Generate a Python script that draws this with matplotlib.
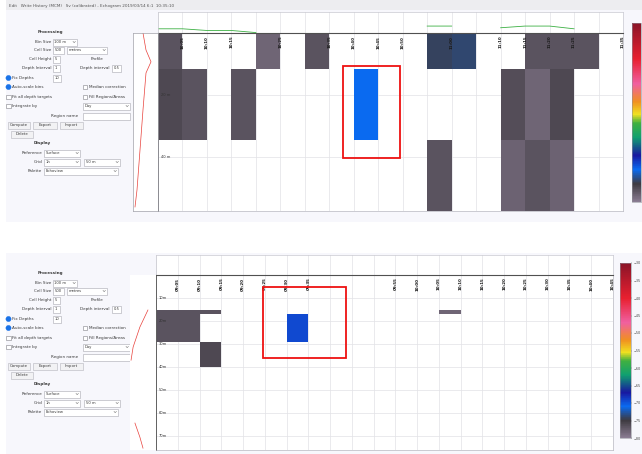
import numpy as np
import matplotlib
matplotlib.use("Agg")
import matplotlib.pyplot as plt
from matplotlib.colors import LinearSegmentedColormap, Normalize
from matplotlib.patches import Rectangle, Circle
import matplotlib.colorbar as mcolorbar

# ---------------- data ----------------
nan = np.nan
# top echogram: 19 time columns x 3 depth cells (Sv, dB)
top_depth_edges = [0, 11.5, 34.5, 57.5]
top_row_a = [-76.8, nan, nan, nan, -78.2, nan, -76.8, nan, nan, nan, nan, -74.2, -73.8, nan, nan, -76.8, -76.8, -76.8, nan]
top_row_b = [-76.0, -76.8, nan, -76.8, nan, nan, nan, nan, -71.0, nan, nan, nan, nan, nan, -76.4, -78.2, -76.0, nan, nan]
top_row_c = [nan, nan, nan, nan, nan, nan, nan, nan, nan, nan, nan, -76.8, nan, nan, -77.9, -76.8, -77.9, nan, nan]
top_depth_ticks = [20, 40]
top_depth_labels = ["20 m", "40 m"]
top_time_pos = [1, 2, 3, 5, 7, 8, 9, 10, 12, 14, 15, 16, 17, 19]
top_time_labels = ["10:05", "10:10", "10:15", "10:25", "10:35", "10:40", "10:45",
                   "10:50", "11:00", "11:10", "11:15", "11:20", "11:25", "11:35"]
# top strip (green line), values at column boundaries
top_line = [0.2, 0.2, 0.12, 0.12, 0.02, nan, nan, nan, nan, nan, nan, 0.33, 0.33,
            nan, 0.25, 0.33, 0.33, 0.2, nan, nan]
# top profile (red line)
top_prof_depth = [0, 5.5, 9.3, 12.9, 24.8, 37.8, 50.7, 56.2]
top_prof_val = [0.40, 0.52, 0.72, 0.52, 0.40, 0.28, 0.16, 0.08]

# bottom echogram: 21 columns x 5 depth cells
bot_depth_edges = [0, 15, 17, 29, 40, 76]
bot_row_0 = [nan] * 21
bot_row_1 = [-76.8, -76.8, -76.8] + [nan] * 10 + [-78.2] + [nan] * 7
bot_row_2 = [-76.8, -76.8, nan, nan, nan, nan, -69.4] + [nan] * 14
bot_row_3 = [nan, nan, -76.0] + [nan] * 18
bot_row_4 = [nan] * 21
bot_depth_ticks = [10, 20, 30, 40, 50, 60, 70]
bot_depth_labels = ["10m", "20m", "30m", "40m", "50m", "60m", "70m"]
bot_time_pos = [1, 2, 3, 4, 5, 6, 7, 11, 12, 13, 14, 15, 16, 17, 18, 19, 20, 21]
bot_time_labels = ["09:05", "09:10", "09:15", "09:20", "09:25", "09:30", "09:35",
                   "09:55", "10:00", "10:05", "10:10", "10:15", "10:20", "10:25",
                   "10:30", "10:35", "10:40", "10:45"]
bot_prof_depth = [15.2, 22.6, 31.3, 37.0, nan, 64.3, 70.4, 75.2]
bot_prof_val = [0.69, 0.38, 0.12, 0.04, nan, 0.19, 0.38, 0.50]

cbar_ticks = [-30, -35, -40, -45, -50, -55, -60, -65, -70, -75, -80]
vmin, vmax = -80, -30

# ---------------- colormap ----------------
cmap = LinearSegmentedColormap.from_list("ev", [
    (0.00, "#8a7c92"), (0.10, "#3e3a40"), (0.18, "#0a6af0"), (0.26, "#1818a0"),
    (0.36, "#10a070"), (0.44, "#40b040"), (0.49, "#f0e020"), (0.56, "#f09020"),
    (0.66, "#f060a0"), (0.80, "#e82030"), (1.00, "#8a1428")])
cmap.set_bad((1, 1, 1, 0))
norm = Normalize(vmin=vmin, vmax=vmax)

W, H = 642, 454
fig = plt.figure(figsize=(W / 100, H / 100), dpi=100)
fig.patch.set_facecolor("white")


def rect(x0, y0, x1, y1):
    return [x0 / W, 1 - y1 / H, (x1 - x0) / W, (y1 - y0) / H]


ui = fig.add_axes([0, 0, 1, 1], zorder=0)
ui.set_xlim(0, W)
ui.set_ylim(H, 0)
ui.axis("off")

PANEL = "#f7f7fc"
TXT = "#3a3a3a"
FS = 3.0

# panel backgrounds
ui.add_patch(Rectangle((6, 0), W - 6, 222, facecolor=PANEL, edgecolor="none"))
ui.add_patch(Rectangle((6, 0), W - 6, 10, facecolor="#ededf0", edgecolor="none"))
ui.add_patch(Rectangle((6, 253), W - 6, H - 253, facecolor=PANEL, edgecolor="none"))
ui.text(9, 5.5, "Edit   Write History (MCM)   Sv (calibrated) - Echogram 2019/03/14 6:1  10:35:10",
        fontsize=FS, color="#555555", ha="left", va="center")


def lab(x, y, s, ha="right", bold=False):
    ui.text(x, y, s, fontsize=FS, ha=ha, va="center", color=TXT,
            fontweight="bold" if bold else "normal")


def box(x0, x1, y, txt=None, drop=False):
    ui.add_patch(Rectangle((x0, y - 3.5), x1 - x0, 7, facecolor="white",
                           edgecolor="#a8a8b0", lw=0.4))
    if txt:
        ui.text(x0 + 1.5, y, txt, fontsize=2.7, ha="left", va="center", color=TXT)
    if drop:
        ui.plot([x1 - 4, x1 - 2.8, x1 - 1.6], [y - 0.6, y + 0.7, y - 0.6],
                color="#666666", lw=0.35)


def radio(x, y, s):
    ui.add_patch(Circle((x, y), 2.6, facecolor="#1a73e8", edgecolor="#1a73e8", lw=0.3))
    lab(x + 4, y, s, ha="left")


def check(x, y, s):
    ui.add_patch(Rectangle((x - 2.2, y - 2.2), 4.4, 4.4, facecolor="white",
                           edgecolor="#808088", lw=0.4))
    lab(x + 4, y, s, ha="left")


def button(x0, x1, y, s):
    ui.add_patch(Rectangle((x0, y - 3.5), x1 - x0, 7, facecolor="#f2f2f4",
                           edgecolor="#b4b4bc", lw=0.4))
    ui.text((x0 + x1) / 2, y, s, fontsize=2.8, ha="center", va="center", color=TXT)


def controls(d):
    lab(50, 32 + d, "Processing", ha="center", bold=True)
    lab(51, 42 + d, "Bin Size"); box(53, 77, 42 + d, "100 m", True)
    lab(51, 50 + d, "Cell Size"); box(53, 64, 50 + d, "500"); box(67, 107, 50 + d, "metres", True)
    lab(51, 59 + d, "Cell Height"); box(53, 60, 59 + d, "5")
    lab(97, 59 + d, "Profile", ha="center")
    lab(51, 68 + d, "Depth Interval"); box(53, 60, 68 + d, "1")
    lab(110, 68 + d, "Depth interval"); box(112, 121, 68 + d, "0.5")
    radio(8.5, 78 + d, "Fix Depths"); box(53, 61, 78 + d, "10")
    radio(8.5, 87 + d, "Auto-scale bins"); check(85, 87 + d, "Median correction")
    check(8.5, 97 + d, "Fit all depth targets"); check(85, 97 + d, "Fill Regions/Areas")
    check(8.5, 106 + d, "Integrate by"); box(83, 130, 106 + d, "Day", True)
    lab(78, 116 + d, "Region name"); box(83, 130, 116 + d)
    button(8, 30, 125 + d, "Compute"); button(33, 57, 125 + d, "Export")
    button(60, 83, 125 + d, "Import"); button(11, 33, 134 + d, "Delete")
    lab(42, 143 + d, "Display", ha="center", bold=True)
    lab(42, 153 + d, "Reference"); box(44, 80, 153 + d, "Surface", True)
    lab(42, 162 + d, "Grid"); box(44, 80, 162 + d, "1h", True); box(84, 120, 162 + d, "50 m", True)
    lab(42, 171 + d, "Palette"); box(44, 118, 171 + d, "Echoview", True)


controls(0)
controls(241)


def echogram(r, data, edges, ncols, ticks, tlabels, tpos, tlabs):
    ax = fig.add_axes(r, zorder=2)
    ax.set_facecolor("white")
    x_edges = np.arange(ncols + 1)
    ax.pcolormesh(x_edges, edges, np.ma.masked_invalid(np.array(data, dtype=float)),
                  cmap=cmap, norm=norm, shading="flat", zorder=1)
    ax.set_xlim(0, ncols)
    ax.set_ylim(edges[-1], 0)
    ax.set_xticks(x_edges)
    ax.set_yticks(ticks)
    ax.tick_params(length=0, labelbottom=False, labelleft=False)
    ax.set_axisbelow(True)
    ax.grid(True, color="#e2e2e6", lw=0.5)
    for s in ax.spines.values():
        s.set_color("#b8b8c0")
        s.set_linewidth(0.5)
    ax.spines["top"].set_color("#505050")
    ax.spines["top"].set_linewidth(0.8)
    ax.spines["left"].set_color("#606060")
    ax.spines["left"].set_linewidth(0.7)
    for t, s in zip(ticks, tlabels):
        ax.text(0.006, t, s, transform=ax.get_yaxis_transform(), fontsize=2.6,
                ha="left", va="center", color="#333333", zorder=3)
    for p, s in zip(tpos, tlabs):
        ax.text(p, 0.985, s, transform=ax.get_xaxis_transform(), rotation=90,
                fontsize=2.9, fontweight="bold", ha="center", va="top",
                color="#1a1a1a", zorder=3)
    return ax


def strip(r, ncols, line=None):
    ax = fig.add_axes(r, zorder=2)
    ax.set_facecolor("white")
    ax.set_xlim(0, ncols)
    ax.set_ylim(0, 1)
    ax.set_xticks(np.arange(ncols + 1))
    ax.set_yticks([])
    ax.tick_params(length=0, labelbottom=False, labelleft=False)
    ax.grid(True, axis="x", color="#e2e2e6", lw=0.5)
    for s in ax.spines.values():
        s.set_color("#c8c8d0")
        s.set_linewidth(0.5)
    if line is not None:
        ax.plot(np.arange(len(line)), line, color="#3cb043", lw=0.6)
    return ax


def profile(r, depth, val, ymax, frame=True):
    ax = fig.add_axes(r, zorder=2)
    ax.set_facecolor("white")
    ax.plot(val, depth, color="#e8403a", lw=0.5)
    ax.set_xlim(0, 1)
    ax.set_ylim(ymax, 0)
    ax.set_xticks([])
    ax.set_yticks([])
    for s in ax.spines.values():
        s.set_color("#a0a0a8" if frame else "none")
        s.set_linewidth(0.5)
    return ax


def cbar(r, ticks=None):
    cax = fig.add_axes(r, zorder=2)
    cb = mcolorbar.Colorbar(cax, cmap=cmap, norm=norm, orientation="vertical")
    cb.outline.set_edgecolor("#909098")
    cb.outline.set_linewidth(0.4)
    if ticks is None:
        cb.set_ticks([])
    else:
        cb.set_ticks(ticks)
        cb.ax.tick_params(labelsize=2.4, length=1, width=0.3, pad=0.8, colors="#444444")
    return cb


# top panel
top_data = [top_row_a, top_row_b, top_row_c]
strip(rect(158, 12, 623, 33), 19, top_line)
echogram(rect(158, 33, 623, 211), top_data, top_depth_edges, 19,
         top_depth_ticks, top_depth_labels, top_time_pos, top_time_labels)
profile(rect(133, 33, 158, 211), top_prof_depth, top_prof_val, top_depth_edges[-1])
cbar(rect(632, 23, 641, 202))

# bottom panel
bot_data = [bot_row_0, bot_row_1, bot_row_2, bot_row_3, bot_row_4]
strip(rect(156, 255, 613, 275), 21)
echogram(rect(156, 275, 613, 450), bot_data, bot_depth_edges, 21,
         bot_depth_ticks, bot_depth_labels, bot_time_pos, bot_time_labels)
profile(rect(130, 275, 156, 450), bot_prof_depth, bot_prof_val, bot_depth_edges[-1], frame=False)
cbar(rect(620, 263, 631, 438), cbar_ticks)

# red highlight boxes
ov = fig.add_axes([0, 0, 1, 1], zorder=10)
ov.set_xlim(0, W)
ov.set_ylim(H, 0)
ov.axis("off")
ov.patch.set_alpha(0)
ov.add_patch(Rectangle((343, 66), 57, 92, facecolor="none", edgecolor="#ee1111", lw=1.3))
ov.add_patch(Rectangle((263, 287), 83, 71, facecolor="none", edgecolor="#ee1111", lw=1.3))

fig.savefig("out.png", dpi=100, facecolor="white")
